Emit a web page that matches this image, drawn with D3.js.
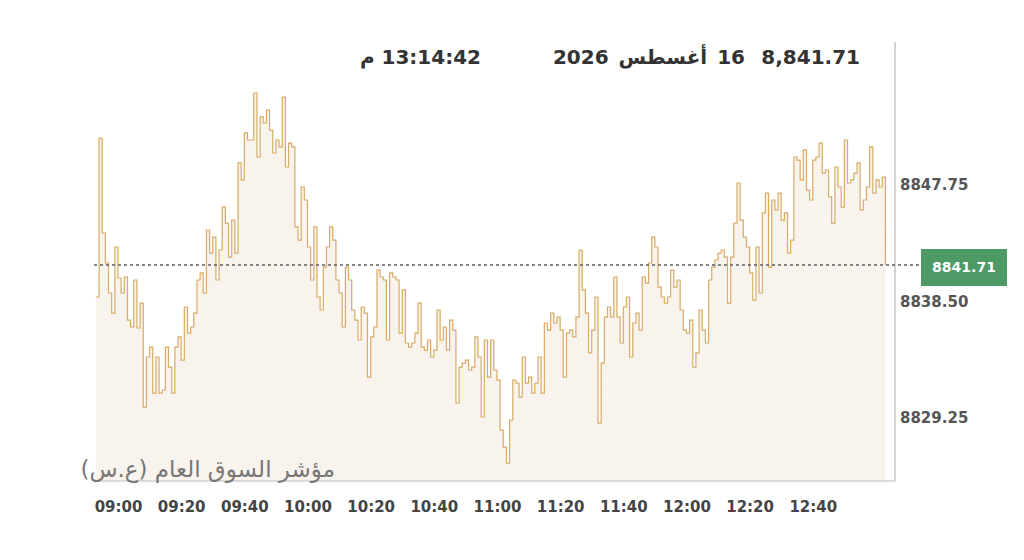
<!DOCTYPE html>
<html>
<head>
<meta charset="utf-8">
<script src="https://cdn.jsdelivr.net/npm/d3@7"></script>
<style>
  body { margin: 0; background: #fff; }
  svg { display: block; font-family: "DejaVu Sans", "Noto Sans", sans-serif; }
</style>
</head>
<body>
<svg id="chart" width="1024" height="560"></svg>
<script>
// index level, one value per minute starting at startTime
var startTime = "08:53:00";
var values = [
  8839.17, 8851.79, 8844.25, 8841.87, 8839.49, 8837.90, 8843.14, 8840.68, 8839.49, 8840.76,
  8837.34, 8836.79, 8840.52, 8836.71, 8838.69, 8830.44, 8834.41, 8835.20, 8831.55, 8834.41,
  8831.55, 8831.79, 8835.20, 8833.61, 8831.55, 8835.20, 8836.00, 8834.17, 8838.38, 8836.31,
  8836.79, 8837.90, 8840.52, 8841.08, 8839.49, 8844.49, 8842.66, 8843.93, 8840.52, 8842.90,
  8846.31, 8845.04, 8842.34, 8845.28, 8842.66, 8849.81, 8848.46, 8852.19, 8851.63, 8851.63,
  8855.36, 8850.28, 8853.46, 8852.98, 8854.01, 8852.42, 8850.60, 8851.63, 8851.08, 8855.04,
  8849.49, 8851.39, 8851.08, 8844.73, 8843.69, 8847.90, 8846.87, 8843.14, 8840.52, 8844.73,
  8839.17, 8838.14, 8841.55, 8843.14, 8844.73, 8843.69, 8840.52, 8839.49, 8836.79, 8841.55,
  8840.52, 8838.14, 8837.34, 8835.76, 8838.38, 8837.90, 8832.82, 8836.00, 8836.79, 8841.31,
  8840.76, 8840.52, 8835.76, 8841.08, 8840.76, 8840.52, 8836.31, 8839.73, 8835.52, 8835.20,
  8835.52, 8836.31, 8838.69, 8835.20, 8834.96, 8835.76, 8834.41, 8834.96, 8838.14, 8835.76,
  8836.79, 8834.96, 8837.34, 8836.55, 8830.76, 8833.61, 8833.93, 8834.17, 8833.38, 8833.61,
  8836.00, 8834.41, 8829.65, 8835.76, 8832.82, 8835.76, 8833.38, 8832.58, 8828.61, 8827.26,
  8825.99, 8829.41, 8832.58, 8832.34, 8831.23, 8834.41, 8832.34, 8832.82, 8831.55, 8832.34,
  8834.41, 8831.55, 8837.11, 8836.55, 8837.90, 8837.11, 8837.58, 8836.55, 8832.82, 8836.31,
  8836.55, 8836.00, 8837.58, 8842.90, 8839.73, 8837.90, 8834.73, 8836.55, 8839.17, 8829.17,
  8833.93, 8837.58, 8838.38, 8837.58, 8840.76, 8837.58, 8835.52, 8838.38, 8839.17, 8834.41,
  8837.11, 8837.90, 8836.55, 8840.76, 8840.28, 8841.87, 8843.93, 8843.14, 8839.96, 8839.17,
  8838.69, 8839.17, 8841.31, 8839.96, 8840.52, 8838.14, 8836.55, 8836.31, 8837.34, 8833.61,
  8834.73, 8838.14, 8836.55, 8835.52, 8840.52, 8841.55, 8842.11, 8842.66, 8842.90, 8842.34,
  8838.69, 8842.34, 8845.04, 8848.22, 8845.28, 8843.93, 8843.14, 8841.08, 8838.93, 8843.14,
  8839.49, 8845.84, 8847.42, 8841.55, 8846.87, 8846.08, 8847.42, 8845.28, 8845.84, 8842.66,
  8843.69, 8850.28, 8850.04, 8848.46, 8850.84, 8847.66, 8846.87, 8850.04, 8850.28, 8851.39,
  8849.01, 8849.25, 8847.11, 8845.04, 8849.49, 8847.90, 8846.31, 8851.63, 8848.22, 8848.46,
  8849.01, 8849.81, 8846.08, 8846.87, 8847.90, 8851.08, 8847.42, 8848.46, 8847.90, 8848.69,
  8841.71
];
var lastValue = 8841.71;

var yTicks = [8829.25, 8838.50, 8847.75];
var yDomain = [8824.57, 8859.17];
var xTicks = ["09:00", "09:20", "09:40", "10:00", "10:20", "10:40", "11:00", "11:20", "11:40", "12:00", "12:20", "12:40"];
var xDomain = ["08:52:24", "13:06:02"];

var headerValue = "8,841.71";
var headerDate = "16 أغسطس 2026";
var headerTime = "13:14:42 م";
var indexName = "مؤشر السوق العام (ع.س)";

// plot box (note: "top" is reserved on window, so keep these in an object)
var plot = { left: 94, right: 895, top: 45, bottom: 481 };

var parseTime = d3.timeParse("%H:%M:%S");
var parseTick = d3.timeParse("%H:%M");

var data = values.map(function(v, i) {
  return { t: d3.timeMinute.offset(parseTime(startTime), i), v: v };
});

var x = d3.scaleTime()
    .domain(xDomain.map(parseTime))
    .range([plot.left, plot.right]);

var y = d3.scaleLinear()
    .domain(yDomain)
    .range([plot.bottom, plot.top]);

var svg = d3.select("#chart");

// light fill under the index line
var area = d3.area()
    .curve(d3.curveStepAfter)
    .x(function(d) { return x(d.t); })
    .y0(plot.bottom)
    .y1(function(d) { return y(d.v); });

svg.append("path")
    .datum(data)
    .attr("d", area)
    .attr("fill", "#f9f3ed");

var line = d3.line()
    .curve(d3.curveStepAfter)
    .x(function(d) { return x(d.t); })
    .y(function(d) { return y(d.v); });

svg.append("path")
    .datum(data)
    .attr("d", line)
    .attr("fill", "none")
    .attr("stroke", "#d4a355")
    .attr("stroke-width", 1.2)
    .attr("stroke-opacity", 0.9);

// frame: bottom and right borders
svg.append("line")
    .attr("x1", plot.left).attr("x2", plot.right)
    .attr("y1", plot.bottom).attr("y2", plot.bottom)
    .attr("stroke", "#cfcfcf").attr("stroke-width", 1.5);

svg.append("line")
    .attr("x1", plot.right).attr("x2", plot.right)
    .attr("y1", plot.top - 3).attr("y2", plot.bottom)
    .attr("stroke", "#c4c4c4").attr("stroke-width", 1.5);

// current level marker
var yLast = y(lastValue);
svg.append("line")
    .attr("x1", plot.left).attr("x2", 921)
    .attr("y1", yLast).attr("y2", yLast)
    .attr("stroke", "#5f5f5f")
    .attr("stroke-width", 1.5)
    .attr("stroke-dasharray", "3,3");

svg.append("rect")
    .attr("x", 921).attr("y", yLast - 16)
    .attr("width", 86).attr("height", 37)
    .attr("fill", "#4d9a66");

svg.append("text")
    .attr("x", 964).attr("y", yLast + 2.5)
    .attr("dy", "0.35em")
    .attr("text-anchor", "middle")
    .attr("fill", "#fff")
    .style("font-size", "14px")
    .style("font-weight", "700")
    .text(d3.format(".2f")(lastValue));

// axes
var yAxis = svg.append("g")
    .attr("transform", "translate(" + plot.right + ",0)")
    .call(d3.axisRight(y).tickValues(yTicks).tickSize(0).tickPadding(5).tickFormat(d3.format(".2f")));
yAxis.select(".domain").remove();
yAxis.selectAll("text")
    .attr("y", -4)
    .attr("fill", "#555")
    .style("font-size", "15px")
    .style("font-weight", "700")
    .style("font-family", "\"DejaVu Sans\", sans-serif");

var xAxis = svg.append("g")
    .attr("transform", "translate(0," + plot.bottom + ")")
    .call(d3.axisBottom(x).tickValues(xTicks.map(parseTick)).tickSize(0).tickPadding(20).tickFormat(d3.timeFormat("%H:%M")));
xAxis.select(".domain").remove();
xAxis.selectAll("text")
    .attr("fill", "#444")
    .style("font-size", "15px")
    .style("font-weight", "700")
    .style("font-family", "\"DejaVu Sans\", sans-serif");

// header
var header = svg.append("g")
    .style("font-size", "20px")
    .style("font-weight", "700")
    .attr("fill", "#333");

header.append("text")
    .attr("x", 860).attr("y", 64)
    .attr("text-anchor", "end")
    .text(headerValue);

header.append("text")
    .attr("x", 745).attr("y", 64)
    .attr("direction", "rtl")
    .attr("text-anchor", "start")
    .style("word-spacing", "3px")
    .text(headerDate);

header.append("text")
    .attr("x", 481).attr("y", 64)
    .attr("direction", "rtl")
    .attr("text-anchor", "start")
    .text(headerTime);

// index name watermark
svg.append("text")
    .attr("x", 335).attr("y", 477)
    .attr("direction", "rtl")
    .attr("text-anchor", "start")
    .attr("fill", "#777")
    .style("font-size", "23px")
    .text(indexName);
</script>
</body>
</html>
